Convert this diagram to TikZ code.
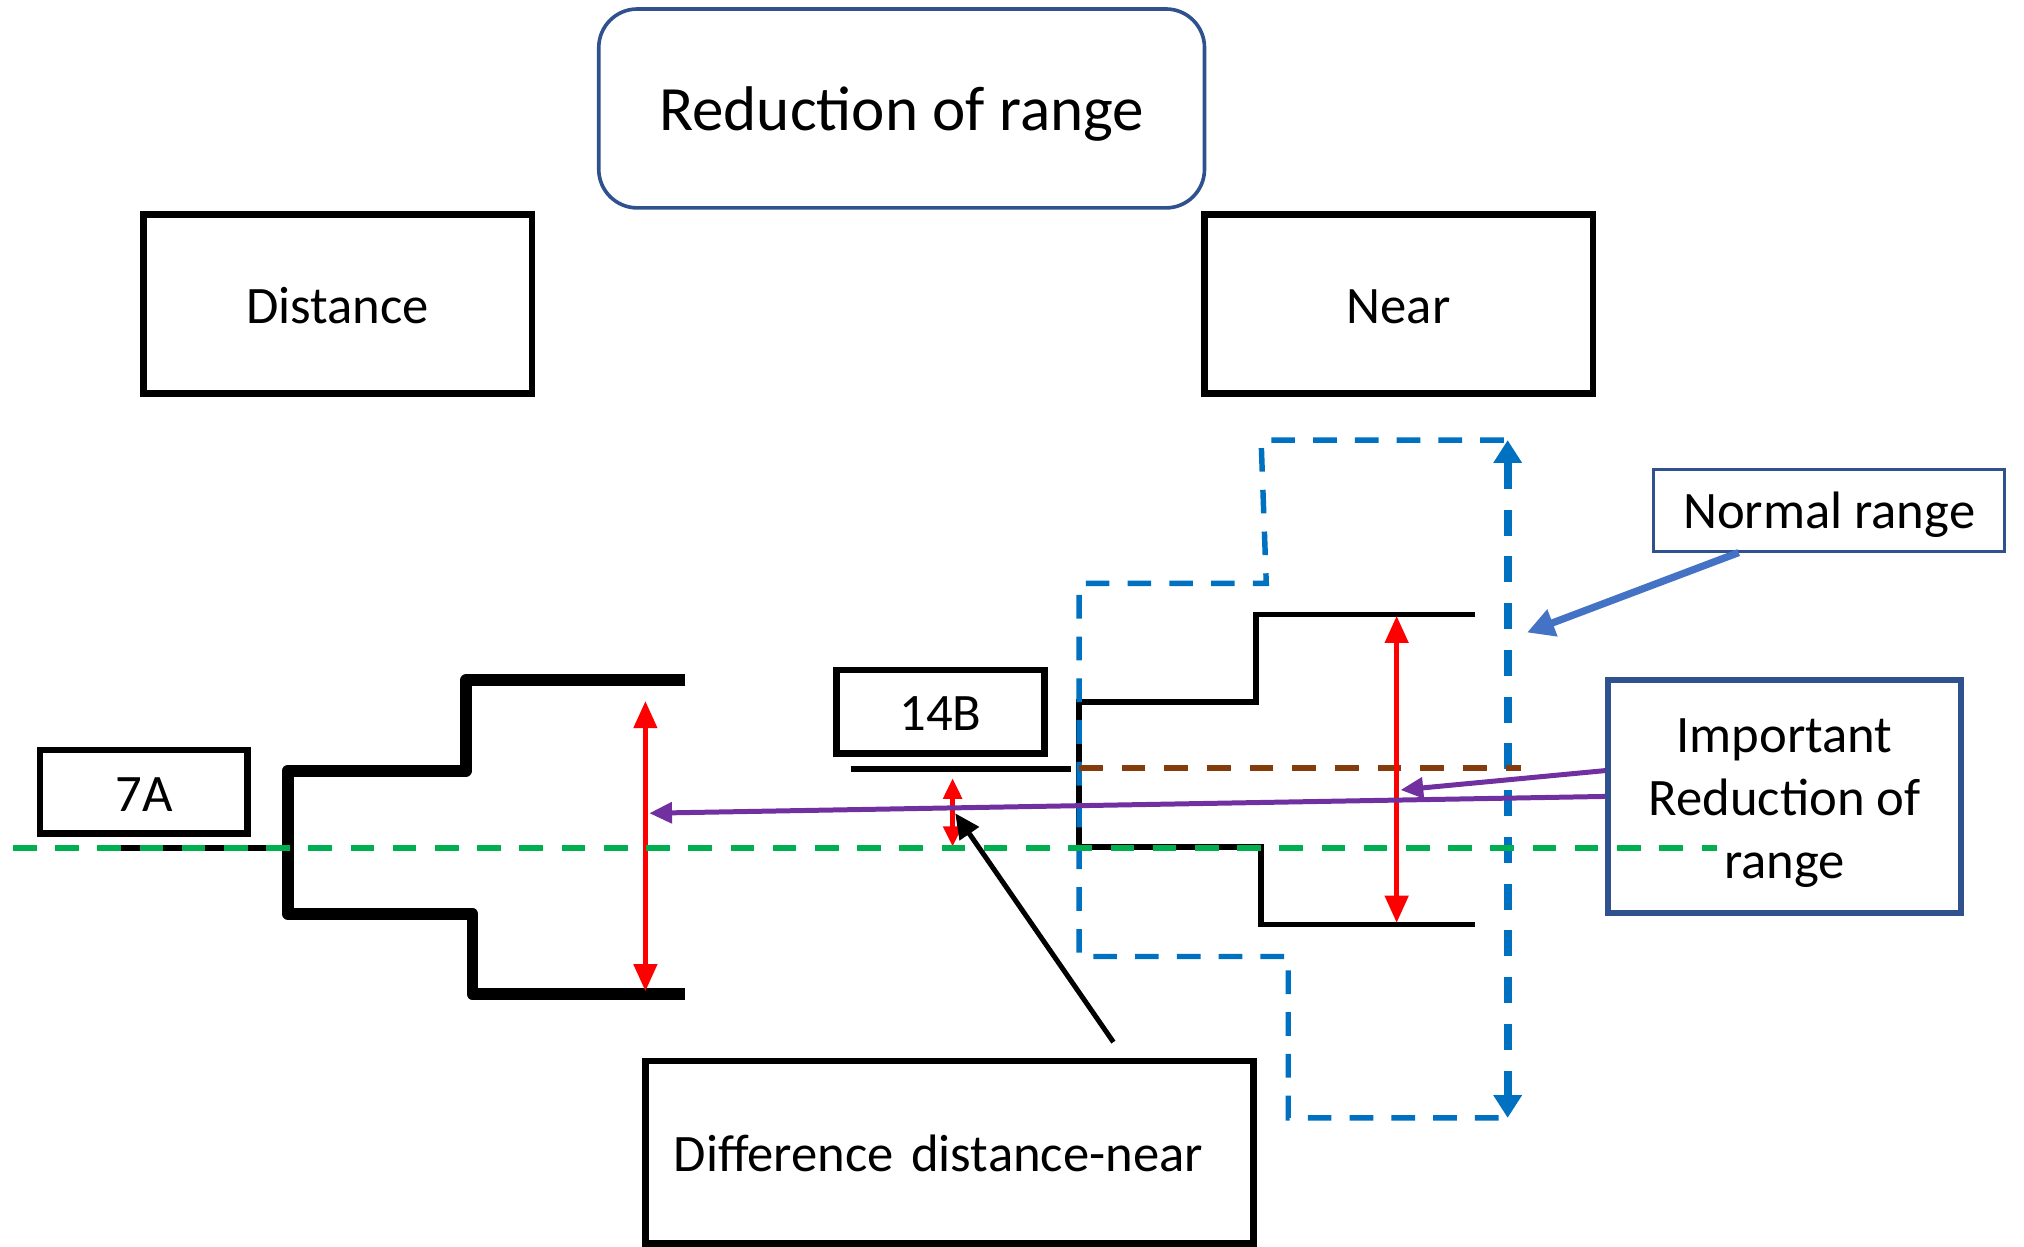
\documentclass[tikz,border=0pt]{standalone}
\usepackage{fontspec}
\setmainfont{Carlito}
\usetikzlibrary{arrows.meta}
\definecolor{boxblue}{HTML}{2F528F}
\definecolor{dashblue}{HTML}{0070C0}
\definecolor{arrblue}{HTML}{4472C4}
\definecolor{purp}{HTML}{7030A0}
\definecolor{grn}{HTML}{00B050}
\definecolor{brn}{HTML}{843C0C}
\definecolor{redc}{HTML}{FF0000}
\begin{document}
\begin{tikzpicture}[x=0.01cm,y=-0.01cm,
  lbl/.style={font=\fontsize{11.6}{13.9}\selectfont},
  blackbox/.style={draw=black,line width=1.5pt,lbl,inner sep=0pt,align=center,text height=8.6pt,text depth=0pt},
  distprof/.style={line width=2.6pt,line join=round},
  nearprof/.style={line width=1.2pt},
  redarrow/.style={draw=redc,line width=1.2pt,{Triangle[width=5pt,length=6pt]}-{Triangle[width=5pt,length=6pt]}},
  smallred/.style={draw=redc,line width=1.1pt,{Triangle[width=4pt,length=4.5pt]}-{Triangle[width=4pt,length=4.5pt]}},
  bluedash/.style={draw=dashblue,line width=1.2pt,dash pattern=on 5.2pt off 4pt},
  bluevert/.style={draw=dashblue,line width=1.8pt,dash pattern=on 5.7pt off 4.6pt,{Triangle[width=6pt,length=5pt]}-{Triangle[width=6pt,length=5pt]}},
  greendash/.style={draw=grn,line width=1.4pt,dash pattern=on 5.2pt off 4.1pt},
  browndash/.style={draw=brn,line width=1.3pt,dash pattern=on 5.2pt off 4.2pt},
  purparrow/.style={draw=purp,line width=1.1pt,-{Triangle[width=4.5pt,length=5pt]}},
  normarrow/.style={draw=arrblue,line width=1.6pt,-{Triangle[width=6pt,length=6pt]}},
  blackarrow/.style={draw=black,line width=1.1pt,-{Triangle[width=5pt,length=5.5pt]}}
]
\useasboundingbox (0,0) rectangle (1568,966);

% boxes
\node[draw=boxblue,line width=0.8pt,rounded corners=8.5pt,minimum width=4.69cm,minimum height=1.54cm,inner sep=0pt,text depth=0pt,font=\fontsize{13.9}{16}\selectfont] (title) at (698.5,84) {Reduction of range};
\node[blackbox,minimum width=3.01cm,minimum height=1.39cm] (dist) at (261.5,235.5) {Distance};
\node[blackbox,minimum width=3.01cm,minimum height=1.39cm] (near) at (1083.5,235.5) {Near};
\node[blackbox,minimum width=1.61cm,minimum height=0.65cm] (sevenA) at (111.5,613.5) {7A};
\node[blackbox,minimum width=1.61cm,minimum height=0.65cm,text height=8.2pt] (fourteenB) at (728.5,551.5) {14B};
\node[draw=boxblue,line width=0.6pt,lbl,minimum width=2.72cm,minimum height=0.63cm,inner sep=0pt,text depth=0pt] (normal) at (1417,395.5) {Normal range};
\node[draw=boxblue,line width=1.4pt,minimum width=2.73cm,minimum height=1.80cm,inner sep=0pt] (important) at (1382.5,617) {};
\node[lbl,align=center,inner sep=0pt] (importanttext) at (1382.5,622) {Important\\Reduction of\\range};
\node[blackbox,minimum width=4.71cm,minimum height=1.41cm,text width=4.27cm,inner xsep=0.22cm,align=left] (diff) at (735.5,892.5) {\mbox{Difference distance-near}};

% distance profile
\draw[distprof] (531,527) -- (361,527) -- (361,597) -- (223,597) -- (223,708) -- (366,708) -- (366,770) -- (531,770);
\draw[line width=1.4pt] (85,657) -- (223,657);

% near profile
\draw[nearprof] (1143,476) -- (973,476) -- (973,544) -- (836,544) -- (836,656) -- (977,656) -- (977,716) -- (1143,716);
\draw[line width=1.3pt] (659,596) -- (830,596);

% blue dashed range
\draw[bluedash] (1165,341) -- (977,341) -- (981,452) -- (836,452) -- (836,741) -- (998,741) -- (998,866) -- (1166,866);
\coordinate (bt) at (1168,341);
\coordinate (bb) at (1168,866);
\draw[bluevert] (bb) -- (bt);

% brown dashed
\draw[browndash] (836,595) -- (1178,595);

% red arrows
\coordinate (r1t) at (500,543);
\coordinate (r1b) at (500,768);
\coordinate (r2t) at (1082,477);
\coordinate (r2b) at (1082,715);
\coordinate (r3t) at (738,603);
\coordinate (r3b) at (738,656);
\draw[redarrow] (r1t) -- (r1b);
\draw[redarrow] (r2t) -- (r2b);
\draw[smallred] (r3t) -- (r3b);

% green dashed axis
\draw[greendash] (10,657) -- (1330,657);

% purple arrows
\coordinate (p1) at (1085,612);
\coordinate (p2) at (503,630);
\draw[purparrow] ([yshift=0.2cm]important.west) -- (p1);
\draw[purparrow] (important.west) -- (p2);

% normal range arrow
\coordinate (nt) at (1183,490);
\draw[normarrow] ([xshift=-0.7cm]normal.south) -- (nt);

% difference arrow
\coordinate (dt) at (740,630);
\draw[blackarrow] ([xshift=1.27cm,yshift=0.12cm]diff.north) -- (dt);
\end{tikzpicture}
\end{document}
